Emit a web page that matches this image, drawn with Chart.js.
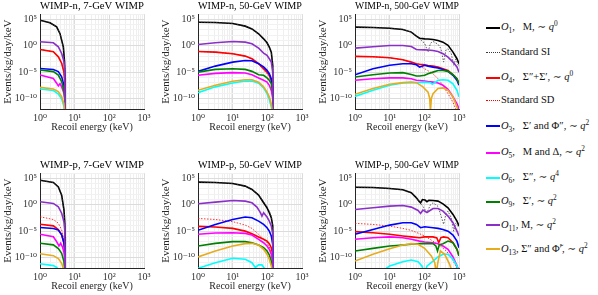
<!DOCTYPE html>
<html lang="en">
<head>
<meta charset="UTF-8">
<title>WIMP recoil spectra</title>
<script src="https://cdn.jsdelivr.net/npm/chart.js"></script>
<style>
    body { margin: 0; background: #fff; }
    #wrap {
        position: relative; width: 598px; height: 295px; overflow: hidden;
        font-family: "Liberation Serif", "DejaVu Serif", serif; color: #111;
    }
    .panel { position: absolute; }
    .item {
        position: absolute; left: 486px; height: 14px; line-height: 14px;
        font-size: 10.5px; white-space: nowrap;
    }
    .item .ln {
        display: inline-block; width: 14px; height: 0; vertical-align: middle;
        border-top: 2px solid #000; margin-right: 1px;
    }
    .item .ln.dot { border-top-width: 1px; border-top-style: dotted; }
    .item sub, .item sup { font-size: 70%; line-height: 0; }
    .item i { font-style: italic; }
</style>
</head>
<body>
<div id="wrap">
    <div class="panel" style="left:0;top:0"><canvas id="n7" width="156" height="135"></canvas></div>
    <div class="panel" style="left:158px;top:0"><canvas id="n50" width="156" height="135"></canvas></div>
    <div class="panel" style="left:315px;top:0"><canvas id="n500" width="156" height="135"></canvas></div>
    <div class="panel" style="left:0;top:159px"><canvas id="p7" width="156" height="135"></canvas></div>
    <div class="panel" style="left:158px;top:159px"><canvas id="p50" width="156" height="135"></canvas></div>
    <div class="panel" style="left:315px;top:159px"><canvas id="p500" width="156" height="135"></canvas></div>
    <div id="legend"></div>
</div>

<script>
// series order: O1, SI, O4, SD, O3, O5, O6, O9, O11, O13
const seriesNames = ['O1', 'Standard SI', 'O4', 'Standard SD', 'O3', 'O5', 'O6', 'O9', 'O11', 'O13'];

const xDecades = [1, 10, 100, 1000];
const xTickLabels = ['10⁰', '10¹', '10²', '10³'];
const yDecades = [1e-10, 1e-5, 1, 1e5];
const yTickLabels = ['10⁻¹⁰', '10⁻⁵', '10⁰', '10⁵'];

// [recoil energy keV, events/kg/day/keV]
// WIMP-n, 7 GeV
const n7O1 = [[1,7.2e4],[1.94,2.3e4],[3.02,4e3],[3.78,200],[4.71,0.6],[5.1,1e-3],[5.3,1e-6],[5.35,1e-14]];
const n7SI = [[1,7e4],[1.94,2.2e4],[3.02,3.9e3],[3.78,190],[4.71,0.55],[5.1,9e-4],[5.3,1e-6],[5.35,1e-14]];
const n7O4 = [[1,0.2],[2.43,0.074],[3.38,8e-3],[4.22,5e-4],[4.9,1e-5],[5.2,1e-7],[5.35,1e-14]];
const n7SD = [[1,0.21],[2.43,0.078],[3.38,8.5e-3],[4.22,5.2e-4],[4.9,1e-5],[5.2,1e-7],[5.35,1e-14]];
const n7O3 = [[1,5e-5],[2.43,3.2e-5],[3.38,1.26e-5],[4.22,1.26e-6],[4.9,3e-8],[5.2,1e-9],[5.35,1e-14]];
const n7O5 = [[1,2.8e-6],[2.43,6.3e-7],[3.02,8e-8],[3.38,2.5e-8],[3.78,6.3e-8],[4.22,1.6e-8],[4.9,1e-9],[5.2,5e-11],[5.35,1e-14]];
const n7O6 = [[1,6.3e-9],[2.43,3.2e-9],[3.38,7e-10],[4.22,8e-11],[4.9,3e-12],[5.35,1e-14]];
const n7O9 = [[1,2.5e-5],[2.43,1.26e-5],[3.38,2.8e-6],[4.22,1.6e-7],[4.9,3e-9],[5.2,1e-10],[5.35,1e-14]];
const n7O11 = [[1,5.8],[2.43,3.7],[3.38,0.63],[4.22,0.035],[4.9,1e-3],[5.2,1e-5],[5.35,1e-14]];
const n7O13 = [[1,1.26e-8],[2.43,6.3e-9],[3.38,2e-9],[4.22,2.2e-10],[4.9,1e-11],[5.35,1e-14]];

// WIMP-n, 50 GeV
const n50O1 = [[1,3e4],[3.16,2.6e4],[10,1.7e4],[23,5.4e3],[36,1.6e3],[56,190],[78,21],[98,3.7],[114,0.56],[130,0.063],[143,2e-4],[147,1e-14]];
const n50SI = [[1,3e4],[3.16,2.6e4],[10,1.7e4],[23,5.4e3],[36,1.5e3],[56,150],[78,15],[98,3],[114,0.4],[130,0.08],[143,3e-4],[147,1e-14]];
const n50O4 = [[1,0.085],[3.16,0.063],[10,0.032],[23,0.011],[36,3.5e-3],[56,4e-4],[78,4.5e-5],[98,1e-5],[114,2.5e-6],[130,2.8e-7],[143,1e-8],[147,1e-14]];
const n50SD = [[1,0.085],[3.16,0.063],[10,0.032],[23,0.011],[36,3.3e-3],[56,3e-4],[78,2.5e-5],[98,5e-6],[114,1.3e-6],[130,1.5e-7],[143,5e-9],[147,1e-14]];
const n50O3 = [[1,1.4e-5],[3.16,1.4e-4],[10,8e-4],[23,1.66e-3],[36,1.45e-3],[56,4e-4],[78,1e-4],[98,2.2e-5],[114,5e-6],[130,5.6e-7],[143,1e-8],[147,1e-14]];
const n50O5 = [[1,2.5e-6],[3.16,5.8e-6],[10,7.9e-6],[23,6.8e-6],[36,3.2e-6],[56,8e-7],[78,2.8e-7],[98,1.26e-7],[114,3.2e-8],[130,3.5e-9],[143,1e-10],[147,1e-14]];
const n50O6 = [[1,1.26e-9],[3.16,1.6e-8],[10,8.5e-8],[23,2e-7],[36,2e-7],[56,8e-8],[78,1e-8],[98,8e-10],[114,6.3e-11],[130,2.5e-12],[143,1e-13],[147,1e-14]];
const n50O9 = [[1,1e-5],[3.16,3.3e-5],[10,4.5e-5],[23,3.3e-5],[36,1.4e-5],[56,3.2e-6],[78,2.5e-6],[98,8e-7],[114,2.8e-7],[130,6.3e-8],[143,1e-9],[147,1e-14]];
const n50O11 = [[1,1.8],[3.16,3.7],[10,6.6],[23,5],[36,2.4],[56,0.36],[78,0.042],[98,0.015],[114,3.5e-3],[130,8e-4],[143,1e-5],[147,1e-14]];
const n50O13 = [[1,3.5e-9],[3.16,3.2e-8],[10,1.8e-7],[23,3.6e-7],[36,3.6e-7],[56,1.26e-7],[78,1.6e-8],[98,1.6e-9],[114,2e-10],[130,1e-11],[143,1e-13],[147,1e-14]];

// WIMP-n, 500 GeV
const n500O1 = [[1,3.5e3],[3.3,3e3],[10,2.2e3],[24,1.26e3],[42,400],[59,68],[73,28],[102,21],[128,19],[178,16],[248,10],[345,5],[482,1.2],[671,0.063],[873,3.5e-3],[1000,4e-4]];
const n500SI = [[1,3.5e3],[3.3,3e3],[10,2.2e3],[24,1.26e3],[42,400],[59,68],[73,20],[102,3],[128,0.063],[150,3],[178,6.6],[248,2],[300,0.3],[360,8e-4],[420,0.16],[482,0.27],[600,0.03],[702,2e-4],[800,3e-3],[1000,1e-4]];
const n500O4 = [[1,0.01],[3.3,8.3e-3],[10,5.4e-3],[24,2.2e-3],[42,8e-4],[59,4e-4],[73,3.2e-4],[102,2.5e-4],[128,1.8e-4],[178,1.4e-4],[248,9e-5],[345,4.5e-5],[482,2.1e-5],[671,3.2e-6],[873,5.6e-7],[1000,6.3e-8]];
const n500SD = [[1,0.01],[3.3,8.3e-3],[10,5.4e-3],[24,2.2e-3],[42,7e-4],[59,3.2e-4],[102,4.5e-5],[178,5e-6],[248,5.6e-7],[345,3.2e-8],[482,8e-10],[671,2e-11],[800,1e-12],[900,1e-13]];
const n500O3 = [[1,3.2e-6],[3.3,4.5e-5],[10,2e-4],[24,4e-4],[42,4e-4],[59,2.5e-4],[73,9e-5],[102,2e-4],[128,1.4e-4],[178,9e-5],[248,6.3e-5],[345,3.3e-5],[482,1.4e-5],[671,2.5e-6],[873,2.8e-7],[1000,3.2e-8]];
const n500O5 = [[1,2.8e-7],[3.3,5.6e-7],[10,8e-7],[24,8e-7],[42,5.6e-7],[59,2.8e-7],[73,2.5e-7],[102,2e-7],[128,1.6e-7],[178,1.26e-7],[248,8.5e-8],[345,3.2e-8],[482,5.4e-9],[671,2e-10],[873,1e-11],[1000,1e-12]];
const n500O6 = [[1,2.5e-10],[3.3,3.5e-9],[10,3.2e-8],[24,8.5e-8],[42,1e-7],[59,1e-7],[73,1.1e-7],[102,1.26e-7],[128,1.1e-7],[150,1e-7],[170,5e-8],[200,1e-7],[248,2.8e-7],[345,3.6e-7],[482,2.8e-7],[671,6.3e-8],[873,3.5e-9],[1000,2e-10]];
const n500O9 = [[1,1.2e-6],[3.3,3.2e-6],[10,6.8e-6],[24,7.9e-6],[42,3.7e-6],[59,1.8e-6],[73,1.8e-6],[102,2.5e-6],[128,5e-6],[178,1e-5],[248,2.1e-5],[345,2.1e-5],[482,1.4e-5],[671,3.2e-6],[873,5.6e-7],[1000,6.3e-8]];
const n500O11 = [[1,0.36],[3.3,0.65],[10,1.17],[24,1.17],[42,0.74],[59,0.2],[73,0.18],[102,0.17],[128,0.16],[178,0.13],[248,0.085],[345,0.032],[482,7.2e-3],[671,8e-4],[873,1e-4],[1000,1e-5]];
const n500O13 = [[1,6.3e-10],[3.3,8e-9],[10,5e-8],[24,1e-7],[42,1.26e-7],[59,1e-7],[91,1.6e-8],[128,1.6e-9],[143,1e-10],[150,3e-13],[159,1e-10],[178,8e-10],[248,8e-9],[345,1e-8],[482,3.5e-9],[671,2e-10],[873,2.5e-12],[1000,1e-13]];

// WIMP-p, 7 GeV
const p7O1 = [[1,4.7e4],[2.43,1.7e4],[3.38,2.5e3],[4.22,63],[4.92,0.1],[5.2,3e-4],[5.3,1e-6],[5.35,1e-14]];
const p7SI = [[1,4.6e4],[2.43,1.65e4],[3.38,2.4e3],[4.22,60],[4.92,0.09],[5.2,3e-4],[5.3,1e-6],[5.35,1e-14]];
const p7O4 = [[1,2e-4],[2.43,1e-4],[3.38,2e-5],[4.22,2e-6],[4.9,5e-8],[5.2,1e-9],[5.35,1e-14]];
const p7SD = [[1,5.4e-3],[2.43,1.6e-3],[3.38,3.2e-4],[4.22,1.6e-5],[4.9,3e-7],[5.2,1e-8],[5.35,1e-14]];
const p7O3 = [[1,5e-5],[2.43,3.2e-5],[3.38,1.6e-5],[4.22,2e-6],[4.9,6.3e-8],[5.2,2e-9],[5.35,1e-14]];
const p7O5 = [[1,2.5e-6],[2.43,8.7e-7],[3.02,1e-7],[3.53,1.6e-8],[3.95,5e-8],[4.51,8e-9],[4.9,1e-9],[5.2,5e-11],[5.35,1e-14]];
const p7O6 = [[1,6.3e-12],[2.43,2.8e-12],[3.02,1.26e-12],[3.8,2.5e-13]];
const p7O9 = [[1,5e-8],[2.43,2.5e-8],[3.38,5e-9],[4.22,6.3e-10],[4.9,1.6e-11],[5.35,1e-14]];
const p7O11 = [[1,3.7],[2.43,1.8],[3.38,0.4],[4.22,0.025],[4.9,6e-4],[5.2,1e-5],[5.35,1e-14]];
const p7O13 = [[1,5e-10],[2.43,2.2e-10],[3.38,6.3e-11],[4.22,8e-12],[4.9,3e-13],[5.35,1e-14]];

// WIMP-p, 50 GeV
const p50O1 = [[1,2e4],[3.16,1.7e4],[10,1.1e4],[23,3.5e3],[36,800],[56,68],[78,2.4],[98,0.27],[114,0.032],[130,3.5e-3],[143,1e-4],[147,1e-14]];
const p50SI = [[1,2e4],[3.16,1.7e4],[10,1.1e4],[23,3.5e3],[36,800],[56,80],[78,4],[98,0.5],[114,0.06],[130,6e-3],[143,1.5e-4],[147,1e-14]];
const p50O4 = [[1,8e-5],[3.16,5.9e-5],[10,3.3e-5],[23,1e-5],[36,3.2e-6],[56,8e-7],[78,2.8e-7],[98,1.26e-7],[114,4e-8],[130,7.2e-9],[143,3e-10],[147,1e-14]];
const p50SD = [[1,2.5e-3],[3.16,1.66e-3],[10,6.3e-4],[23,1.4e-4],[36,3.3e-5],[56,2.5e-6],[78,2.8e-7],[98,6.3e-8],[114,1e-8],[130,1e-9],[143,3e-11],[147,1e-14]];
const p50O3 = [[1,1.4e-5],[3.16,1.9e-4],[10,1.66e-3],[23,4.7e-3],[36,3.5e-3],[56,8e-4],[78,1.9e-4],[98,4.5e-5],[114,1e-5],[130,1.2e-6],[143,3e-8],[147,1e-14]];
const p50O5 = [[1,2.5e-6],[3.16,4.4e-6],[10,5e-6],[23,3.7e-6],[36,1.8e-6],[56,2.8e-7],[78,6.3e-8],[98,1.5e-8],[114,3.5e-9],[130,4e-10],[143,1e-11],[147,1e-14]];
const p50O6 = [[1,8.7e-13],[3.16,1e-11],[10,6.9e-11],[23,4.5e-11],[36,1e-11],[45,1.26e-12],[56,4e-12],[70,4e-12],[87,5e-13],[100,1e-13]];
const p50O9 = [[1,1.5e-8],[3.16,4.8e-8],[10,1e-7],[23,1e-7],[36,6.3e-8],[56,2.3e-8],[78,7.2e-9],[98,1.7e-9],[114,3.2e-10],[130,2e-11],[143,3e-13],[147,1e-14]];
const p50O11 = [[1,1.55],[3.16,3.2],[10,6.6],[23,5],[36,2.4],[50,0.36],[63,0.032],[70,7.2e-3],[78,0.032],[98,4.7e-3],[114,8e-4],[130,1e-4],[143,3e-6],[147,1e-14]];
const p50O13 = [[1,1.26e-10],[3.16,1.7e-9],[10,1.5e-8],[23,4.2e-8],[36,4.8e-8],[56,2.3e-8],[78,3.5e-9],[98,4e-10],[114,4.5e-11],[130,2.5e-12],[143,1e-13],[147,1e-14]];

// WIMP-p, 500 GeV
const p500O1 = [[1,2.2e3],[3.3,1.9e3],[10,1.26e3],[24,700],[42,190],[59,21],[70,5],[78,2.4],[88,10],[105,8],[119,4],[135,7],[178,6.6],[248,5],[345,1.55],[482,0.27],[671,0.015],[873,8e-4],[1000,1e-4]];
const p500SI = [[1,2.2e3],[3.3,1.9e3],[10,1.26e3],[24,700],[42,190],[59,21],[73,3],[91,0.5],[119,0.032],[150,1],[178,2.4],[248,0.5],[300,0.01],[360,2e-4],[420,0.02],[482,0.063],[600,3e-3],[702,1e-5],[800,3e-4],[1000,5e-5]];
const p500O4 = [[1,7.9e-6],[3.3,5e-6],[10,2.5e-6],[24,1.2e-6],[42,8e-7],[73,5.6e-7],[102,8e-7],[178,8e-7],[230,5e-7],[260,6.3e-8],[300,6e-7],[360,8e-7],[482,5.6e-7],[671,6.3e-8],[873,3.5e-9],[1000,2e-10]];
const p500SD = [[1,3e-4],[3.3,1.9e-4],[10,9e-5],[24,3.3e-5],[42,1.4e-5],[73,3.2e-6],[102,1.2e-6],[178,1.26e-7],[290,1.5e-8],[431,1.7e-9],[600,1e-10],[800,3e-12],[1000,1e-13]];
const p500O3 = [[1,2.5e-6],[3.3,2.1e-5],[10,1.4e-4],[24,4e-4],[42,4e-4],[59,1.9e-4],[78,4.5e-5],[102,6.9e-5],[178,4.5e-5],[248,3.3e-5],[345,2.1e-5],[482,1e-5],[671,1.8e-6],[873,1.26e-7],[1000,7.2e-9]];
const p500O5 = [[1,2.8e-7],[3.3,5.6e-7],[10,8e-7],[24,5.6e-7],[42,2.8e-7],[73,1.26e-7],[102,8.5e-8],[178,6.3e-8],[248,4.2e-8],[345,1.5e-8],[482,3.5e-9],[671,1.26e-10],[873,2.5e-12],[1000,3e-13]];
const p500O6 = [[5,1e-13],[10,2.5e-12],[24,1.6e-11],[42,3.2e-11],[66,1.6e-11],[85,2.5e-12],[100,1e-13],[120,2.5e-12],[178,2e-11],[248,1.26e-10],[345,4e-10],[482,4e-10],[671,4.5e-11],[873,2.5e-12],[1000,2e-13]];
const p500O9 = [[1,1.7e-9],[3.3,5.4e-9],[10,1.5e-8],[24,2.3e-8],[42,3.2e-8],[73,4.2e-8],[102,4.2e-8],[178,4.2e-8],[215,1.5e-8],[240,1.7e-9],[270,2.5e-8],[345,4.2e-8],[482,1.3e-7],[671,6.3e-8],[873,3.5e-9],[1000,2e-10]];
const p500O11 = [[1,0.13],[3.3,0.27],[10,0.56],[24,0.74],[42,0.36],[66,0.085],[78,0.023],[91,0.1],[119,0.035],[178,0.2],[248,0.2],[345,0.063],[482,7.2e-3],[671,4e-4],[873,1e-5],[1000,1.2e-6]];
const p500O13 = [[1,2.1e-11],[3.3,4e-10],[10,4.7e-9],[24,2.3e-8],[42,4.2e-8],[66,3.2e-8],[102,5.4e-9],[159,2e-10],[200,1e-11],[222,1e-13],[245,1e-11],[290,1.7e-9],[386,4e-10],[538,5e-12],[642,1e-13]];

// styles, same order as seriesNames
const seriesColors = ['#000000', '#3a3a3a', '#ff0000', '#ff0000', '#0000ff', '#ff00ff', '#00ffff', '#008000', '#8b2fc9', '#e6ac1e'];
const seriesWidths = [1.6, 0.8, 1.6, 0.8, 1.6, 1.6, 1.6, 1.6, 1.6, 1.6];
const seriesDash = [[], [1.5, 1.5], [], [1.5, 1.5], [], [], [], [], [], []];

Chart.defaults.font.family = "'Liberation Serif', 'DejaVu Serif', serif";
Chart.defaults.color = '#262626';

// grid positions: every 1..9 on x, every decade on y
const xGrid = [];
for (let k = 0; k < 3; k++) for (let m = 1; m < 10; m++) xGrid.push(m * Math.pow(10, k));
xGrid.push(1000);
const yGrid = [];
for (let k = -12; k <= 6; k++) yGrid.push(Math.pow(10, k));

function findDecade(v, list) {
    return list.findIndex(d => Math.abs(Math.log10(v) - Math.log10(d)) < 1e-6);
}

function makePanel(id, title, series) {
    new Chart(document.getElementById(id), {
        type: 'line',
        data: {
            datasets: series.map((pts, i) => ({
                label: seriesNames[i],
                data: pts.map(p => ({x: p[0], y: p[1]})),
                borderColor: seriesColors[i],
                borderWidth: seriesWidths[i],
                borderDash: seriesDash[i],
                pointRadius: 0,
                tension: 0,
                fill: false,
                order: 20 - i
            }))
        },
        options: {
            responsive: false,
            animation: false,
            layout: {autoPadding: false, padding: {right: 12, top: 0, left: 0, bottom: 0}},
            plugins: {
                legend: {display: false},
                tooltip: {enabled: false},
                title: {
                    display: true, text: title, color: '#000', fullSize: false,
                    font: {size: 11, weight: 'normal'},
                    padding: {top: 0, bottom: 1}
                }
            },
            scales: {
                x: {
                    type: 'logarithmic', min: 1, max: 1000,
                    afterBuildTicks: s => { s.ticks = xGrid.map(v => ({value: v})); },
                    afterFit: s => { s.height = 26; },
                    ticks: {
                        autoSkip: false, maxRotation: 0, padding: 3, color: '#333',
                        font: {size: 10},
                        callback: v => { const i = findDecade(v, xDecades); return i >= 0 ? xTickLabels[i] : ''; }
                    },
                    grid: {
                        drawTicks: false,
                        color: c => findDecade(c.tick.value, xDecades) >= 0 ? '#dcdcdc' : '#efefef'
                    },
                    border: {color: '#262626', width: 1},
                    title: {display: true, text: 'Recoil energy (keV)', font: {size: 10}, padding: {top: 0, bottom: 2}}
                },
                y: {
                    type: 'logarithmic', min: 1e-12, max: 1e6,
                    afterBuildTicks: s => { s.ticks = yGrid.map(v => ({value: v})); },
                    afterFit: s => { s.width = 40; },
                    ticks: {
                        autoSkip: false, padding: 3, color: '#333',
                        font: {size: 10},
                        callback: v => { const i = findDecade(v, yDecades); return i >= 0 ? yTickLabels[i] : ''; }
                    },
                    grid: {
                        drawTicks: false,
                        color: c => findDecade(c.tick.value, yDecades) >= 0 ? '#dcdcdc' : '#f1f1f1'
                    },
                    border: {color: '#262626', width: 1},
                    title: {display: true, text: 'Events/kg/day/keV', font: {size: 11}, padding: {top: 1.5, bottom: 0}}
                }
            }
        }
    });
}

makePanel('n7', 'WIMP-n, 7-GeV WIMP', [n7O1, n7SI, n7O4, n7SD, n7O3, n7O5, n7O6, n7O9, n7O11, n7O13]);
makePanel('n50', 'WIMP-n, 50-GeV WIMP', [n50O1, n50SI, n50O4, n50SD, n50O3, n50O5, n50O6, n50O9, n50O11, n50O13]);
makePanel('n500', 'WIMP-n, 500-GeV WIMP', [n500O1, n500SI, n500O4, n500SD, n500O3, n500O5, n500O6, n500O9, n500O11, n500O13]);
makePanel('p7', 'WIMP-p, 7-GeV WIMP', [p7O1, p7SI, p7O4, p7SD, p7O3, p7O5, p7O6, p7O9, p7O11, p7O13]);
makePanel('p50', 'WIMP-p, 50-GeV WIMP', [p50O1, p50SI, p50O4, p50SD, p50O3, p50O5, p50O6, p50O9, p50O11, p50O13]);
makePanel('p500', 'WIMP-p, 500-GeV WIMP', [p500O1, p500SI, p500O4, p500SD, p500O3, p500O5, p500O6, p500O9, p500O11, p500O13]);

// legend on the right
const legendTexts = [
    '<i>O</i><sub>1</sub>,&nbsp;&nbsp; M, ∼ <i>q</i><sup>0</sup>',
    'Standard SI',
    '<i>O</i><sub>4</sub>,&nbsp;&nbsp; Σ″+Σ′, ∼ <i>q</i><sup>0</sup>',
    'Standard SD',
    '<i>O</i><sub>3</sub>,&nbsp;&nbsp; Σ′ and Φ″, ∼ <i>q</i><sup>2</sup>',
    '<i>O</i><sub>5</sub>,&nbsp;&nbsp; M and Δ, ∼ <i>q</i><sup>2</sup>',
    '<i>O</i><sub>6</sub>,&nbsp;&nbsp; Σ″, ∼ <i>q</i><sup>4</sup>',
    '<i>O</i><sub>9</sub>,&nbsp;&nbsp; Σ′, ∼ <i>q</i><sup>2</sup>',
    '<i>O</i><sub>11</sub>, M, ∼ <i>q</i><sup>2</sup>',
    '<i>O</i><sub>13</sub>, Σ″ and Φ̃′, ∼ <i>q</i><sup>2</sup>'
];
const legendY = [27, 52, 77, 99.5, 125.5, 152, 177, 201, 224.5, 248.5];
const legendBox = document.getElementById('legend');
legendTexts.forEach((t, i) => {
    const d = document.createElement('div');
    d.className = 'item';
    d.style.top = (legendY[i] - 7) + 'px';
    const dotted = seriesDash[i].length > 0;
    d.innerHTML = '<span class="ln' + (dotted ? ' dot' : '') + '" style="border-top-color:' + seriesColors[i] + '"></span>' + t;
    legendBox.appendChild(d);
});
</script>
</body>
</html>
